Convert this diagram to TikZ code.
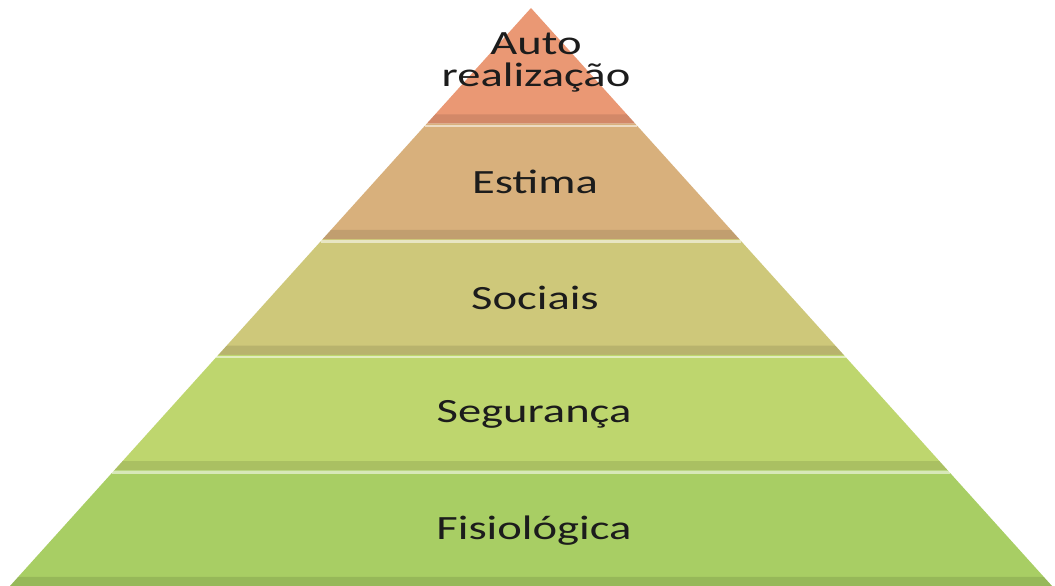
\documentclass[tikz,border=0pt]{standalone}
\usepackage{fontspec}
\newfontfamily\carl[FakeStretch=1.37]{Carlito}
\usetikzlibrary{calc}
\definecolor{tA}{RGB}{234,152,116}
\definecolor{tB}{RGB}{216,176,124}
\definecolor{tC}{RGB}{206,200,122}
\definecolor{tD}{RGB}{190,214,110}
\definecolor{tE}{RGB}{168,206,100}
\definecolor{txt}{RGB}{28,28,28}
\tikzset{
  label/.style={font=\carl\fontsize{34}{32}\selectfont, text=txt, align=center, inner sep=0pt},
  band/.style={fill=black, opacity=0.10},
  hilite/.style={draw=white, opacity=0.55, line width=2.5pt}
}
\begin{document}
\begin{tikzpicture}[x=1pt,y=-1pt]
\useasboundingbox (0,0) rectangle (1055,586);
\fill[white] (0,0) rectangle (1055,586);
\coordinate (A) at (531,8);
\coordinate (BL) at (10,586);
\coordinate (BR) at (1052,586);
\foreach \k/\c in {0/tA,1/tB,2/tC,3/tD,4/tE}{
  \pgfmathsetmacro{\ta}{\k/5}
  \pgfmathsetmacro{\tb}{(\k+1)/5}
  \pgfmathsetmacro{\tc}{(\k+1)/5-0.016}
  \fill[\c] ($(A)!\ta!(BL)$) -- ($(A)!\tb!(BL)$) -- ($(A)!\tb!(BR)$) -- ($(A)!\ta!(BR)$) -- cycle;
  \fill[band] ($(A)!\tc!(BL)$) -- ($(A)!\tb!(BL)$) -- ($(A)!\tb!(BR)$) -- ($(A)!\tc!(BR)$) -- cycle;
}
\foreach \k in {1,2,3,4}{
  \pgfmathsetmacro{\ta}{\k/5+0.004}
  \draw[hilite] ($(A)!\ta!(BL)$) -- ($(A)!\ta!(BR)$);
}
\node[label] (auto) at (536,62) {Auto\\realização};
\node[label] (estima) at (535,182) {Estima};
\node[label] (sociais) at (535,298) {Sociais};
\node[label] (seguranca) at (534,414) {Segurança};
\node[label] (fisio) at (534,531) {Fisiológica};
\end{tikzpicture}
\end{document}
